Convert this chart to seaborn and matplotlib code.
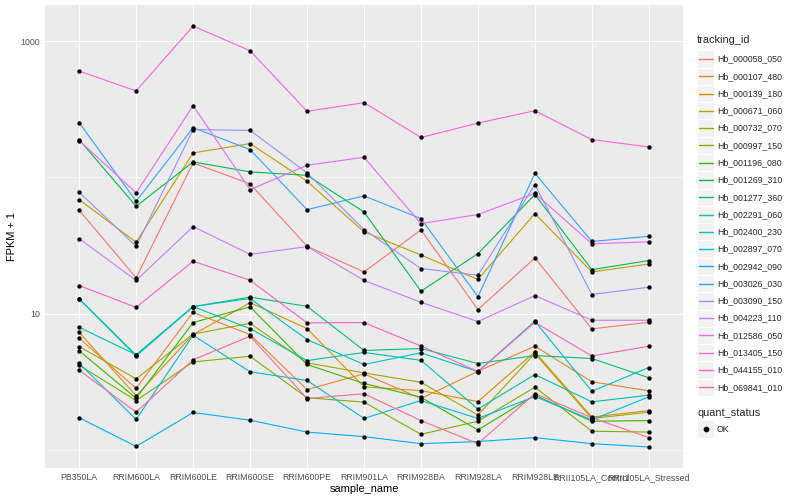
import numpy as np
import pandas as pd
import matplotlib
matplotlib.use("Agg")
import matplotlib.pyplot as plt
from matplotlib.patches import Rectangle
from matplotlib.lines import Line2D
from matplotlib.ticker import FixedLocator, NullFormatter
import seaborn as sns

# --- Data (FPKM values; plotted as FPKM + 1) ---
samples = ["PB350LA", "RRIM600LA", "RRIM600LE", "RRIM600SE", "RRIM600PE", "RRIM901LA",
           "RRIM928BA", "RRIM928LA", "RRIM928LE", "RRII105LA_Control", "RRII105LA_Stressed"]

tracking_ids = ["Hb_000058_050", "Hb_000107_480", "Hb_000139_180", "Hb_000671_060",
                "Hb_000732_070", "Hb_000997_150", "Hb_001196_080", "Hb_001269_310",
                "Hb_001277_360", "Hb_002291_060", "Hb_002400_230", "Hb_002897_070",
                "Hb_002942_090", "Hb_003026_030", "Hb_003090_150", "Hb_004223_110",
                "Hb_012586_050", "Hb_013405_150", "Hb_044155_010", "Hb_069841_010"]

hb_000058_050 = [56.3, 17.3, 126.5, 88.5, 30.2, 19.2, 40.1, 9.7, 24.6, 6.72, 7.63]
hb_000107_480 = [5.59, 1.83, 9.2, 6.01, 1.77, 2.61, 1.38, 2.77, 4.76, 2.16, 1.71]
hb_000139_180 = [6.29, 1.49, 6.01, 11.04, 6.76, 1.90, 1.72, 1.26, 4.24, 0.74, 0.94]
hb_000671_060 = [67.6, 32.4, 150.0, 175.7, 92.5, 38.8, 25.9, 16.8, 53.2, 19.2, 22.1]
hb_000732_070 = [4.73, 2.32, 6.07, 7.49, 3.35, 2.67, 2.13, 0.80, 4.09, 0.70, 0.89]
hb_000997_150 = [3.18, 1.30, 3.42, 3.86, 1.41, 1.24, 0.30, 0.62, 1.88, 0.37, 0.35]
hb_001196_080 = [4.33, 1.39, 7.59, 10.2, 3.23, 2.07, 1.43, 0.40, 1.52, 0.62, 0.64]
hb_001269_310 = [188.0, 60.3, 128.7, 108.5, 102.4, 54.7, 13.6, 26.5, 73.7, 20.0, 23.5]
hb_001277_360 = [11.8, 3.96, 10.25, 12.2, 10.3, 4.36, 4.54, 3.30, 3.92, 3.68, 2.38]
hb_002291_060 = [6.93, 3.99, 10.25, 6.76, 3.52, 4.18, 3.54, 0.99, 2.57, 1.25, 1.52]
hb_002400_230 = [11.8, 3.88, 10.25, 11.9, 5.45, 3.23, 4.15, 2.75, 7.78, 1.69, 3.02]
hb_002897_070 = [3.32, 0.67, 5.93, 2.74, 2.23, 0.70, 1.30, 0.70, 1.46, 0.66, 1.45]
hb_002942_090 = [0.72, 0.06, 0.88, 0.65, 0.35, 0.25, 0.11, 0.15, 0.23, 0.11, 0.05]
hb_003026_030 = [250.8, 65.7, 230.5, 158.7, 56.9, 72.0, 48.8, 12.3, 106.0, 32.8, 35.9]
hb_003090_150 = [76.6, 30.2, 222.8, 220.0, 106.7, 40.3, 20.4, 18.1, 87.4, 12.8, 14.6]
hb_004223_110 = [34.5, 16.5, 42.5, 26.2, 30.0, 16.5, 11.1, 7.74, 12.55, 7.93, 7.93]
hb_012586_050 = [185.0, 75.8, 334.5, 80.2, 121.5, 139.2, 44.7, 52.3, 75.3, 31.5, 32.6]
hb_013405_150 = [601.0, 429.0, 1287.0, 848.0, 304.0, 352.0, 195.0, 249.0, 307.0, 188.0, 166.0]
hb_044155_010 = [15.05, 10.1, 23.2, 16.55, 7.55, 7.59, 4.78, 2.75, 7.63, 3.88, 4.76]
hb_069841_010 = [2.84, 0.89, 3.58, 5.82, 1.38, 1.58, 0.64, 0.11, 1.59, 0.72, 0.23]

all_series = [hb_000058_050, hb_000107_480, hb_000139_180, hb_000671_060, hb_000732_070,
              hb_000997_150, hb_001196_080, hb_001269_310, hb_001277_360, hb_002291_060,
              hb_002400_230, hb_002897_070, hb_002942_090, hb_003026_030, hb_003090_150,
              hb_004223_110, hb_012586_050, hb_013405_150, hb_044155_010, hb_069841_010]

# ggplot2 default hue palette for 20 levels
colors = ["#F8766D", "#EA8331", "#D89000", "#C09B00", "#A3A500", "#7CAE00", "#39B600",
          "#00BB4E", "#00BF7D", "#00C1A3", "#00BFC4", "#00BAE0", "#00B0F6", "#35A2FF",
          "#9590FF", "#C77CFF", "#E76BF3", "#FA62DB", "#FF62BC", "#FF6C91"]

# --- Long table ---
rows = []
for tid, vals in zip(tracking_ids, all_series):
    for i, (s, v) in enumerate(zip(samples, vals)):
        rows.append({"tracking_id": tid, "sample_name": s, "x": i, "FPKM": v})
df = pd.DataFrame(rows)
df["FPKM1"] = df["FPKM"] + 1

# --- Style ---
sns.set_theme(style="white")
plt.rcParams["font.family"] = ["Liberation Sans", "DejaVu Sans"]

W, H = 800, 500
fig = plt.figure(figsize=(8, 5), dpi=100)
fig.patch.set_facecolor("white")

# panel in pixel coordinates: left 45, right 683, top 5, bottom 468
ax = fig.add_axes([45 / W, (H - 468) / H, (683 - 45) / W, (468 - 5) / H])
ax.set_facecolor("#EBEBEB")

sns.lineplot(data=df, x="x", y="FPKM1", hue="tracking_id", hue_order=tracking_ids,
             palette=colors, errorbar=None, linewidth=0.8, legend=False, ax=ax, zorder=2)
sns.scatterplot(data=df, x="x", y="FPKM1", color="black", s=10, linewidth=0,
                legend=False, ax=ax, zorder=3)

ax.set_yscale("log")
lo, hi = np.log10(df["FPKM1"].min()), np.log10(df["FPKM1"].max())
pad = 0.05 * (hi - lo)
ax.set_ylim(10 ** (lo - pad), 10 ** (hi + pad))
ax.set_xlim(-0.6, len(samples) - 0.4)

ax.set_xticks(range(len(samples)))
ax.set_xticklabels(samples)
ax.yaxis.set_major_locator(FixedLocator([10, 1000]))
ax.set_yticklabels(["10", "1000"])
ax.yaxis.set_minor_locator(FixedLocator([1, 100]))
ax.yaxis.set_minor_formatter(NullFormatter())
ax.xaxis.set_minor_locator(FixedLocator([]))

ax.tick_params(which="major", length=2, width=0.8, color="#333333", labelcolor="#4D4D4D",
               labelsize=6.3, pad=1.5)
ax.tick_params(which="minor", length=0)
ax.grid(which="major", color="white", linewidth=0.8)
ax.grid(which="minor", axis="y", color="white", linewidth=0.4)
ax.set_axisbelow(True)
for sp in ax.spines.values():
    sp.set_visible(False)

ax.set_xlabel("sample_name", fontsize=7.9, color="black", va="center")
ax.xaxis.set_label_coords(0.5, (468 - 489) / 463)
ax.set_ylabel("FPKM + 1", fontsize=7.9, color="black", va="center")
ax.yaxis.set_label_coords((12 - 45) / 638, 0.5)


# --- Legends (drawn like ggplot's guide boxes) ---
def fy(px):
    return 1 - px / H


def fx(px):
    return px / W


fig.text(fx(697), fy(40), "tracking_id", fontsize=7.9, va="center", ha="left")
key_h = 17.28
for i, (tid, c) in enumerate(zip(tracking_ids, colors)):
    yc = 59.0 + i * key_h
    fig.patches.append(Rectangle((fx(697), fy(yc + key_h / 2)), 17 / W, key_h / H,
                                 transform=fig.transFigure, facecolor="#F2F2F2",
                                 edgecolor="white", linewidth=0.8, zorder=1))
    fig.lines.append(Line2D([fx(698.5), fx(712.5)], [fy(yc), fy(yc)], transform=fig.transFigure,
                            color=c, linewidth=1.0, zorder=5))
    fig.text(fx(717), fy(yc), tid, fontsize=6.3, va="center", ha="left")

fig.text(fx(697), fy(413), "quant_status", fontsize=7.9, va="center", ha="left")
fig.patches.append(Rectangle((fx(697), fy(429 + key_h / 2)), 17 / W, key_h / H,
                             transform=fig.transFigure, facecolor="#F2F2F2",
                             edgecolor="white", linewidth=0.8, zorder=1))
fig.lines.append(Line2D([fx(705.5)], [fy(429)], transform=fig.transFigure, marker="o",
                        markersize=3.1, color="black", linestyle="none", zorder=5))
fig.text(fx(717), fy(429), "OK", fontsize=6.3, va="center", ha="left")

fig.savefig("out.png", dpi=100)
